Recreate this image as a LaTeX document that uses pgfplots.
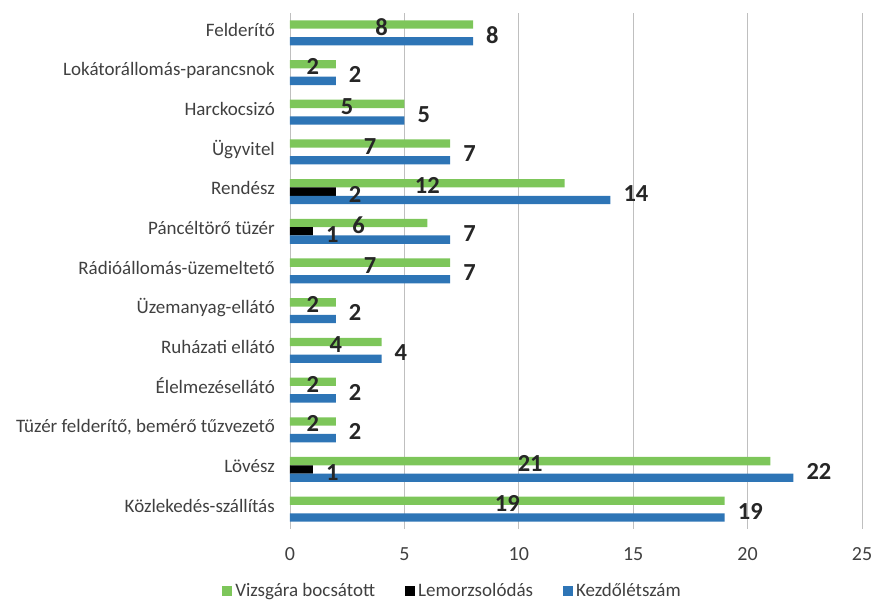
\documentclass[border=0pt]{standalone}
\usepackage{pgfplots}
\pgfplotsset{compat=1.18}
\usepackage{pgfplotstable}
\usepackage{fontspec}
\setmainfont{Carlito}
\definecolor{cgreen}{RGB}{125,198,90}
\definecolor{cblue}{RGB}{46,117,182}
\definecolor{cgrid}{RGB}{191,191,191}
\definecolor{ctext}{RGB}{64,64,64}
\definecolor{clabel}{RGB}{38,38,38}
\pgfplotstableread{
y g k
0 19 19
1 21 22
2 2 2
3 2 2
4 4 4
5 2 2
6 7 7
7 6 7
8 12 14
9 7 7
10 5 5
11 2 2
12 8 8
}\datatable
\begin{document}
\begin{tikzpicture}
\begin{axis}[
  scale only axis, width=572pt, height=516pt,
  xmin=0, xmax=25, ymin=-0.5, ymax=12.5,
  xtick={0,5,...,25}, ytick={0,...,12},
  yticklabels={Közlekedés-szállítás, Lövész, {Tüzér felderítő, bemérő tűzvezető}, Élelmezésellátó, Ruházati ellátó, Üzemanyag-ellátó, Rádióállomás-üzemeltető, Páncéltörő tüzér, Rendész, Ügyvitel, Harckocsizó, Lokátorállomás-parancsnok, Felderítő},
  xmajorgrids, major grid style={cgrid, line width=0.9pt},
  axis line style={draw=none}, tick style={draw=none},
  /pgf/number format/assume math mode=true,
  xticklabel style={font=\fontsize{20}{24}\selectfont, text=ctext, inner sep=0pt, yshift=-18pt},
  yticklabel style={font=\fontsize{19}{22}\selectfont, text=ctext, inner sep=0pt, xshift=-15pt, text height=0.64em, text depth=0pt},
  legend style={at={(0.285,-0.12)}, anchor=center, draw=none, legend columns=3,
    font=\fontsize{19}{22}\selectfont, text=ctext,
    nodes={inner sep=3pt},
    /tikz/every even column/.append style={column sep=27pt}},
  legend image code/.code={\fill[#1, draw=none] (0pt,-5pt) rectangle (10pt,5pt);},
  every node near coord/.append style={font=\bfseries\fontsize{24.5}{28}\selectfont, text=clabel, inner sep=0pt},
]
\coordinate (o) at (rel axis cs:0,0);
\addplot[xbar, bar width=0.21, bar shift=0.21, fill=cgreen, draw=none] table[x=g, y=y] {\datatable};
\addlegendentry{Vizsgára bocsátott}
\addplot[xbar, bar width=0.21, bar shift=0, fill=black, draw=none,
  nodes near coords, every node near coord/.append style={anchor=west, xshift=13pt, yshift=-3pt}]
  coordinates {(2,8) (1,7) (1,1)};
\addlegendentry{Lemorzsolódás}
\addplot[xbar, bar width=0.21, bar shift=-0.21, fill=cblue, draw=none,
  nodes near coords, every node near coord/.append style={anchor=west, xshift=13pt, yshift=-2pt}]
  table[x=k, y=y] {\datatable};
\addlegendentry{Kezdőlétszám}
\addplot[forget plot, draw=none, nodes near coords, point meta=\thisrow{g},
  every node near coord/.append style={anchor=center, yshift=-2.5pt}]
  table[x expr=\thisrow{g}/2, y expr=\thisrow{y}+0.21] {\datatable};
\end{axis}
\pgfresetboundingbox
\path[use as bounding box] ([shift={(-290pt,-72pt)}]o) rectangle ([shift={(587pt,529pt)}]o);
\end{tikzpicture}
\end{document}
